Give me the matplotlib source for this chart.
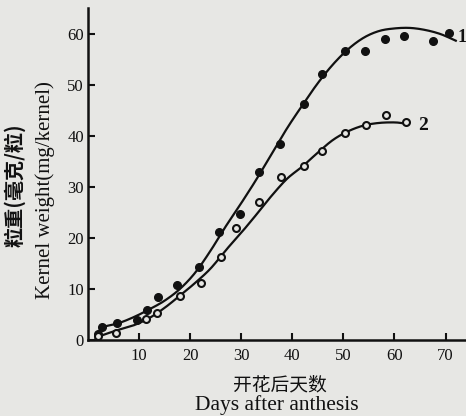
import matplotlib
matplotlib.use("Agg")
import matplotlib.pyplot as plt
import numpy as np

# ---- data ----
days_1 = [2.0, 2.7, 5.7, 9.6, 11.6, 13.7, 17.4, 21.7, 25.7, 29.8, 33.5, 37.5,
          42.2, 45.9, 50.4, 54.3, 58.2, 61.8, 67.5, 70.6]
weight_1 = [1.2, 2.5, 3.3, 3.9, 5.9, 8.4, 10.7, 14.3, 21.1, 24.6, 32.8, 38.3,
            46.3, 52.0, 56.6, 56.6, 59.0, 59.6, 58.6, 60.2]

days_2 = [2.0, 5.5, 11.4, 13.5, 18.0, 22.2, 26.0, 29.0, 33.5, 37.7, 42.2,
          45.9, 50.4, 54.5, 58.4, 62.2]
weight_2 = [0.8, 1.4, 4.1, 5.3, 8.6, 11.1, 16.2, 22.0, 27.0, 32.0, 34.0,
            37.1, 40.6, 42.0, 44.0, 42.6]

curve1_x = [1.5, 3, 6, 9, 12, 15, 18, 21, 24, 27, 30, 33, 36, 39, 42, 45,
            48, 51, 54, 57, 60, 63, 66, 69, 72]
curve1_y = [1.0, 2.5, 3.3, 4.5, 6.0, 7.7, 10.0, 13.2, 17.5, 22.3, 26.8, 31.5,
            36.5, 41.5, 46.0, 50.3, 54.0, 57.0, 59.2, 60.5, 61.0, 61.1, 60.7,
            59.9, 58.6]

curve2_x = [1.5, 3, 6, 9, 12, 15, 18, 21, 24, 27, 30, 33, 36, 39, 42, 45,
            48, 51, 54, 57, 60, 62]
curve2_y = [0.3, 1.0, 2.0, 2.9, 4.3, 6.3, 8.7, 11.2, 14.0, 17.6, 21.0, 24.6,
            28.3, 31.6, 34.0, 36.7, 39.2, 40.9, 42.0, 42.5, 42.6, 42.4]

x_ticks = [10, 20, 30, 40, 50, 60, 70]
y_ticks = [0, 10, 20, 30, 40, 50, 60]
curve_labels = ["1", "2"]

bg = "#e7e7e4"
ink = "#111111"


def smooth(xs, ys, n=12):
    """Catmull-Rom rendering of a read polyline so it draws as a smooth curve."""
    p = np.column_stack([xs, ys]).astype(float)
    p = np.vstack([2 * p[0] - p[1], p, 2 * p[-1] - p[-2]])
    out = []
    t = np.linspace(0, 1, n, endpoint=False)[:, None]
    for i in range(1, len(p) - 2):
        p0, p1, p2, p3 = p[i - 1], p[i], p[i + 1], p[i + 2]
        seg = 0.5 * ((2 * p1) + (-p0 + p2) * t + (2 * p0 - 5 * p1 + 4 * p2 - p3) * t ** 2
                     + (-p0 + 3 * p1 - 3 * p2 + p3) * t ** 3)
        out.append(seg)
    out.append(p[-2][None, :])
    out = np.vstack(out)
    return out[:, 0], out[:, 1]


fig = plt.figure(figsize=(4.66, 4.16), dpi=100, facecolor=bg)
ax = fig.add_axes([88 / 466, 76 / 416, 1 - 88 / 466, (340 - 8) / 416])
ax.set_facecolor(bg)
ax.set_xlim(0, 74)
ax.set_ylim(0, 65)

sx, sy = smooth(curve1_x, curve1_y)
ax.plot(sx, sy, color=ink, lw=1.6, clip_on=False)
sx, sy = smooth(curve2_x, curve2_y)
ax.plot(sx, sy, color=ink, lw=1.6, clip_on=False)
ax.plot(days_1, weight_1, 'o', ms=5.5, color=ink, clip_on=False)
ax.plot(days_2, weight_2, 'o', ms=5, mfc=bg, mec=ink, mew=1.5, clip_on=False)

ax.text(72.4, 59.3, curve_labels[0], fontsize=13, fontweight='bold',
        family='Liberation Serif', color=ink, va='center', ha='left')
ax.text(64.6, 42.0, curve_labels[1], fontsize=14, fontweight='bold',
        family='Liberation Serif', color=ink, va='center', ha='left')

for s in ['top', 'right']:
    ax.spines[s].set_visible(False)
for s in ['left', 'bottom']:
    ax.spines[s].set_linewidth(1.8)
    ax.spines[s].set_color(ink)

ax.set_xticks(x_ticks)
ax.set_yticks(y_ticks)
ax.tick_params(direction='in', length=5, width=1.5, colors=ink)
ax.tick_params(axis='x', pad=6)
ax.tick_params(axis='y', pad=3)
for lab in ax.get_xticklabels() + ax.get_yticklabels():
    lab.set_fontfamily('Liberation Serif')
    lab.set_fontsize(12)

fig.text(15 / 466, 1 - 185 / 416, "粒重(毫克/粒)", rotation=90, ha='center', va='center',
         fontsize=14.5, fontweight='bold', family=['Noto Sans CJK SC', 'DejaVu Sans'], color=ink)
fig.text(45 / 466, 1 - 190 / 416, "Kernel weight(mg/kernel)", rotation=90, ha='center',
         va='center', fontsize=15, family='Liberation Serif', color=ink)
fig.text(280 / 466, 1 - 385 / 416, "开花后天数", ha='center', va='center',
         fontsize=13.5, family=['Noto Sans CJK SC', 'DejaVu Sans'], color=ink)
fig.text(277 / 466, 1 - 405 / 416, "Days after anthesis", ha='center', va='center',
         fontsize=15.5, family='Liberation Serif', color=ink)

fig.savefig("out.png", dpi=100, facecolor=bg)
